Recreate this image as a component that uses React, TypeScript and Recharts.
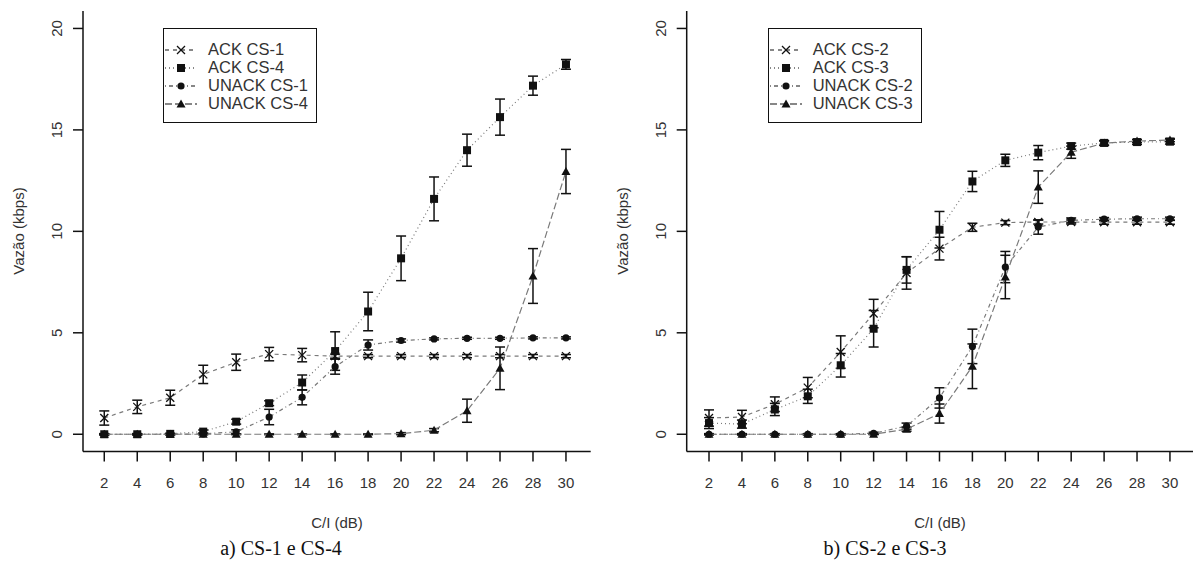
import React from "react";
import { LineChart, Line, XAxis, YAxis, ErrorBar, Legend } from "recharts";

// eixo C/I (dB) e marcas do eixo de vazão
const dbTicks = [2, 4, 6, 8, 10, 12, 14, 16, 18, 20, 22, 24, 26, 28, 30];
const yTicks = [0, 5, 10, 15, 20];

// a) CS-1 e CS-4
const ackCs1 = [0.8, 1.35, 1.8, 2.95, 3.55, 3.95, 3.9, 3.85, 3.85, 3.85, 3.85, 3.85, 3.85, 3.85, 3.85];
const ackCs1Err = [0.35, 0.33, 0.37, 0.45, 0.4, 0.33, 0.33, 0.1, 0.08, 0.08, 0.08, 0.08, 0.08, 0.08, 0.08];
const ackCs4 = [0, 0, 0.02, 0.13, 0.62, 1.53, 2.55, 4.1, 6.05, 8.67, 11.6, 14.0, 15.63, 17.18, 18.23];
const ackCs4Err = [0.03, 0.03, 0.03, 0.08, 0.12, 0.12, 0.37, 0.95, 0.95, 1.1, 1.08, 0.79, 0.89, 0.47, 0.24];
const unackCs1 = [0, 0, 0, 0.02, 0.12, 0.85, 1.82, 3.33, 4.4, 4.62, 4.7, 4.73, 4.73, 4.75, 4.75];
const unackCs1Err = [0.03, 0.03, 0.03, 0.03, 0.1, 0.38, 0.37, 0.37, 0.25, 0.08, 0.05, 0.05, 0.05, 0.05, 0.05];
const unackCs4 = [0, 0, 0, 0, 0, 0, 0, 0, 0, 0.03, 0.2, 1.16, 3.25, 7.8, 12.95];
const unackCs4Err = [0.02, 0.02, 0.02, 0.02, 0.02, 0.02, 0.02, 0.02, 0.02, 0.05, 0.08, 0.57, 1.05, 1.35, 1.09];

// b) CS-2 e CS-3
const ackCs2 = [0.8, 0.85, 1.48, 2.3, 4.05, 5.95, 7.95, 9.15, 10.2, 10.43, 10.46, 10.46, 10.45, 10.45, 10.45];
const ackCs2Err = [0.4, 0.33, 0.36, 0.5, 0.8, 0.7, 0.8, 0.56, 0.2, 0.1, 0.1, 0.1, 0.1, 0.1, 0.1];
const ackCs3 = [0.55, 0.5, 1.22, 1.87, 3.4, 5.2, 8.1, 10.08, 12.46, 13.5, 13.88, 14.2, 14.36, 14.4, 14.42];
const ackCs3Err = [0.27, 0.2, 0.3, 0.35, 0.58, 0.9, 0.65, 0.9, 0.5, 0.3, 0.35, 0.15, 0.12, 0.12, 0.12];
const unackCs2 = [0, 0, 0, 0, 0, 0.05, 0.4, 1.79, 4.33, 8.24, 10.21, 10.54, 10.6, 10.62, 10.62];
const unackCs2Err = [0.03, 0.03, 0.03, 0.03, 0.03, 0.05, 0.15, 0.5, 0.85, 0.77, 0.35, 0.12, 0.08, 0.08, 0.08];
const unackCs3 = [0, 0, 0, 0, 0, 0, 0.25, 1.02, 3.35, 7.75, 12.18, 13.9, 14.35, 14.45, 14.5];
const unackCs3Err = [0.02, 0.02, 0.02, 0.02, 0.02, 0.02, 0.1, 0.47, 1.1, 1.07, 0.8, 0.3, 0.1, 0.08, 0.08];

const FONT = "'Liberation Sans', Arial, sans-serif";
const INK = "#111";
const LINE_GRAY = "#7a7a7a";

type Shape = "x" | "square" | "circle" | "triangle";

interface SeriesDef {
  name: string;
  values: number[];
  errors: number[];
  dash: string;
  shape: Shape;
}

const panelA: SeriesDef[] = [
  { name: "ACK CS-1", values: ackCs1, errors: ackCs1Err, dash: "4 4", shape: "x" },
  { name: "ACK CS-4", values: ackCs4, errors: ackCs4Err, dash: "1 3", shape: "square" },
  { name: "UNACK CS-1", values: unackCs1, errors: unackCs1Err, dash: "1 3 4 3", shape: "circle" },
  { name: "UNACK CS-4", values: unackCs4, errors: unackCs4Err, dash: "7 3", shape: "triangle" },
];

const panelB: SeriesDef[] = [
  { name: "ACK CS-2", values: ackCs2, errors: ackCs2Err, dash: "4 4", shape: "x" },
  { name: "ACK CS-3", values: ackCs3, errors: ackCs3Err, dash: "1 3", shape: "square" },
  { name: "UNACK CS-2", values: unackCs2, errors: unackCs2Err, dash: "1 3 4 3", shape: "circle" },
  { name: "UNACK CS-3", values: unackCs3, errors: unackCs3Err, dash: "7 3", shape: "triangle" },
];

function Marker({ shape, cx, cy }: { shape: Shape; cx: number; cy: number }) {
  if (cx == null || cy == null) return null;
  if (shape === "x") {
    return (
      <g stroke={INK} strokeWidth={1.3}>
        <line x1={cx - 4} y1={cy - 4} x2={cx + 4} y2={cy + 4} />
        <line x1={cx - 4} y1={cy + 4} x2={cx + 4} y2={cy - 4} />
      </g>
    );
  }
  if (shape === "square") return <rect x={cx - 4} y={cy - 4} width={8} height={8} fill={INK} />;
  if (shape === "circle") return <circle cx={cx} cy={cy} r={3.6} fill={INK} />;
  return <polygon points={`${cx},${cy - 4.5} ${cx + 4.5},${cy + 3.5} ${cx - 4.5},${cy + 3.5}`} fill={INK} />;
}

function YTick(props: any) {
  const { x, y, payload } = props;
  const bx = x - 10.6;
  return (
    <text x={bx} y={y} transform={`rotate(-90 ${bx} ${y})`} textAnchor="middle" fontSize={15} fill="#333" fontFamily={FONT}>
      {payload.value}
    </text>
  );
}

function LegendBox({ series }: { series: SeriesDef[] }) {
  return (
    <div
      style={{
        width: 154,
        height: 95,
        boxSizing: "border-box",
        border: `1.5px solid ${INK}`,
        background: "#fff",
        paddingTop: 12,
        fontFamily: FONT,
        fontSize: 16.5,
        color: "#333",
      }}
    >
      {series.map((s) => (
        <div key={s.name} style={{ display: "flex", alignItems: "center", height: 18, whiteSpace: "nowrap" }}>
          <svg width={36} height={18} style={{ flex: "none" }}>
            <line x1={1} y1={9} x2={33} y2={9} stroke={INK} strokeWidth={1.2} strokeDasharray={s.dash} />
            <Marker shape={s.shape} cx={17} cy={9} />
          </svg>
          <span style={{ marginLeft: 8 }}>{s.name}</span>
        </div>
      ))}
    </div>
  );
}

interface PanelProps {
  series: SeriesDef[];
  width: number;
  marginLeft: number;
  marginRight: number;
  xDomain: [number, number];
  legendLeft: number;
}

function Panel({ series, width, marginLeft, marginRight, xDomain, legendLeft }: PanelProps) {
  const data = dbTicks.map((db, i) => {
    const row: Record<string, number> = { db };
    series.forEach((s, k) => {
      row[`v${k}`] = s.values[i];
      row[`e${k}`] = s.errors[i];
    });
    return row;
  });

  return (
    <LineChart
      width={width}
      height={564}
      data={data}
      margin={{ top: 11, right: marginRight, bottom: 82.5, left: marginLeft }}
      style={{ fontFamily: FONT }}
    >
      <XAxis
        xAxisId="bottom"
        dataKey="db"
        type="number"
        domain={xDomain}
        ticks={dbTicks}
        interval={0}
        allowDataOverflow
        height={30}
        tickSize={10}
        tickMargin={16}
        axisLine={{ stroke: INK, strokeWidth: 1.5 }}
        tickLine={{ stroke: INK, strokeWidth: 1.5 }}
        tick={{ fontSize: 15, fill: "#333", fontFamily: FONT }}
      />
      <XAxis
        xAxisId="top"
        dataKey="db"
        type="number"
        orientation="top"
        domain={xDomain}
        allowDataOverflow
        height={0}
        tick={false}
        tickLine={false}
        axisLine={{ stroke: INK, strokeWidth: 1.5 }}
      />
      <YAxis
        yAxisId="left"
        type="number"
        domain={[-0.85, 20.86]}
        ticks={yTicks}
        interval={0}
        allowDataOverflow
        width={60}
        tickSize={10}
        tickMargin={0}
        axisLine={{ stroke: INK, strokeWidth: 1.5 }}
        tickLine={{ stroke: INK, strokeWidth: 1.5 }}
        tick={<YTick />}
      />
      <YAxis
        yAxisId="right"
        orientation="right"
        type="number"
        domain={[-0.85, 20.86]}
        allowDataOverflow
        width={0}
        tick={false}
        tickLine={false}
        axisLine={{ stroke: INK, strokeWidth: 1.5 }}
      />
      <Legend
        layout="vertical"
        align="center"
        verticalAlign="middle"
        wrapperStyle={{ left: legendLeft, top: 27.5, width: 154, height: 95 }}
        content={() => <LegendBox series={series} />}
      />
      {series.map((s, k) => (
        <Line
          key={s.name}
          name={s.name}
          xAxisId="bottom"
          yAxisId="left"
          dataKey={`v${k}`}
          type="linear"
          stroke={LINE_GRAY}
          strokeWidth={1.2}
          strokeDasharray={s.dash}
          isAnimationActive={false}
          activeDot={false}
          dot={(p: any) => (
            <g key={`d-${k}-${p.index}`}>
              <Marker shape={s.shape} cx={p.cx} cy={p.cy} />
            </g>
          )}
        >
          <ErrorBar dataKey={`e${k}`} direction="y" width={5} stroke={INK} strokeWidth={1.5} isAnimationActive={false} />
        </Line>
      ))}
    </LineChart>
  );
}

const abs = (left: number, top: number, extra: React.CSSProperties = {}): React.CSSProperties => ({
  position: "absolute",
  left,
  top,
  transform: "translate(-50%, -50%)",
  whiteSpace: "nowrap",
  ...extra,
});

export default function App() {
  return (
    <div style={{ position: "absolute", left: 0, top: 0, width: 1194, height: 564, background: "#fff", overflow: "hidden" }}>
      <div style={{ position: "absolute", left: 0, top: 0 }}>
        <Panel series={panelA} width={600} marginLeft={23} marginRight={9.3} xDomain={[0.71, 31.5]} legendLeft={163} />
      </div>
      <div style={{ position: "absolute", left: 600, top: 0 }}>
        <Panel series={panelB} width={594} marginLeft={26.7} marginRight={1} xDomain={[0.645, 31.4]} legendLeft={167.7} />
      </div>

      <div style={abs(18, 231, { transform: "translate(-50%, -50%) rotate(-90deg)", fontFamily: FONT, fontSize: 15, color: "#333" })}>Vazão (kbps)</div>
      <div style={abs(622, 231, { transform: "translate(-50%, -50%) rotate(-90deg)", fontFamily: FONT, fontSize: 15, color: "#333" })}>Vazão (kbps)</div>

      <div style={abs(337, 521.5, { fontFamily: FONT, fontSize: 15, color: "#333" })}>C/I (dB)</div>
      <div style={abs(940, 521.5, { fontFamily: FONT, fontSize: 15, color: "#333" })}>C/I (dB)</div>

      <div style={abs(281, 548, { fontFamily: "'Liberation Serif', 'Times New Roman', serif", fontSize: 20, color: "#111" })}>a) CS-1 e CS-4</div>
      <div style={abs(885, 548, { fontFamily: "'Liberation Serif', 'Times New Roman', serif", fontSize: 20, color: "#111" })}>b) CS-2 e CS-3</div>
    </div>
  );
}
